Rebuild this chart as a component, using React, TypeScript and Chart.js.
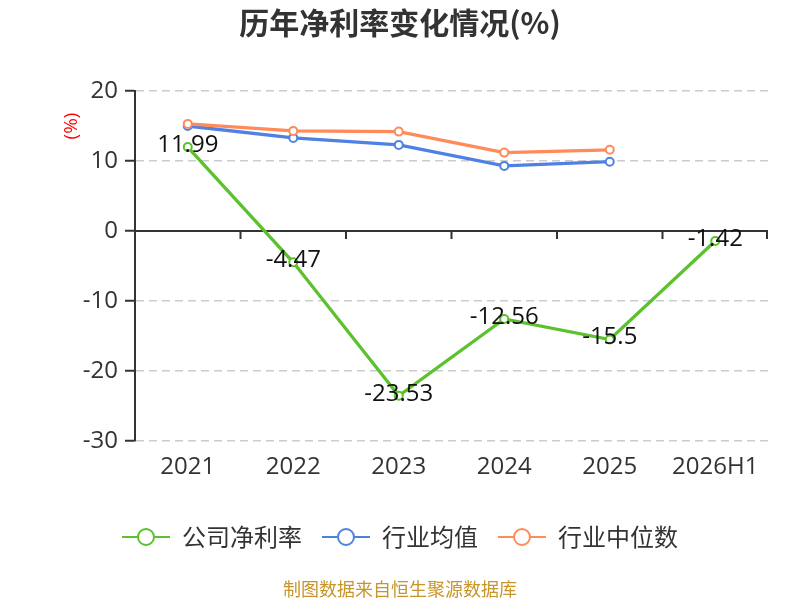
import React, { useEffect, useRef } from 'react';
import { Chart, registerables } from 'chart.js';

Chart.register(...registerables);

const categories = ['2021', '2022', '2023', '2024', '2025', '2026H1'];
const companyNetMargin = [11.99, -4.47, -23.53, -12.56, -15.5, -1.42];
const industryMean = [15.0, 13.3, 12.3, 9.3, 9.9, null];
const industryMedian = [15.3, 14.3, 14.2, 11.2, 11.6, null];
const yTickValues = [20, 10, 0, -10, -20, -30];
const seriesNames = ['公司净利率', '行业均值', '行业中位数'];
const seriesColors = ['#5bc12c', '#4f81e5', '#ff8b58'];
const titleText = '历年净利率变化情况(%)';
const yAxisTitle = '(%)';
const sourceText = '制图数据来自恒生聚源数据库';

const LATIN = "'Open Sans', 'Noto Sans CJK SC', sans-serif";
const CJK = "'Noto Sans CJK SC', 'Open Sans', sans-serif";

const overlayPlugin = {
  id: 'overlay',
  beforeDatasetsDraw(chart: any) {
    const { ctx, chartArea, scales } = chart;
    const xs = scales.x;
    const y0 = scales.y.getPixelForValue(0);
    ctx.save();
    ctx.strokeStyle = '#333';
    ctx.lineWidth = 2;
    ctx.beginPath();
    ctx.moveTo(chartArea.left, y0);
    ctx.lineTo(chartArea.right, y0);
    ctx.stroke();
    const n = categories.length;
    const tickXs: number[] = [];
    for (let i = 0; i < n - 1; i++) {
      tickXs.push((xs.getPixelForValue(i) + xs.getPixelForValue(i + 1)) / 2);
    }
    tickXs.push(chartArea.right - 1);
    ctx.beginPath();
    tickXs.forEach((x) => {
      ctx.moveTo(x, y0);
      ctx.lineTo(x, y0 + 8);
    });
    ctx.stroke();
    ctx.restore();
  },
  afterDatasetsDraw(chart: any) {
    const { ctx } = chart;
    const meta = chart.getDatasetMeta(0);
    ctx.save();
    ctx.font = `24px ${LATIN}`;
    ctx.fillStyle = '#111';
    ctx.textAlign = 'center';
    ctx.textBaseline = 'middle';
    meta.data.forEach((pt: any, i: number) => {
      const v = companyNetMargin[i];
      if (v === null || v === undefined) return;
      ctx.fillText(String(v), pt.x, pt.y - 2);
    });
    ctx.restore();
  },
  afterDraw(chart: any) {
    const { ctx, width } = chart;
    ctx.save();
    // title
    ctx.font = `bold 30px ${CJK}`;
    ctx.fillStyle = '#333';
    ctx.textAlign = 'center';
    ctx.textBaseline = 'middle';
    ctx.fillText(titleText, width / 2, 23);

    // y axis title
    ctx.save();
    ctx.translate(72, 126);
    ctx.rotate(-Math.PI / 2);
    ctx.font = `19px ${LATIN}`;
    ctx.fillStyle = '#ff0000';
    ctx.textAlign = 'center';
    ctx.textBaseline = 'middle';
    ctx.fillText(yAxisTitle, 0, 0);
    ctx.restore();

    // legend
    ctx.font = `24px ${CJK}`;
    const lineW = 48;
    const textGap = 12;
    const itemGap = 20;
    const widths = seriesNames.map((s) => ctx.measureText(s).width);
    const total = widths.reduce((a, b) => a + b, 0) + seriesNames.length * (lineW + textGap) + (seriesNames.length - 1) * itemGap;
    let x = (width - total) / 2;
    const ly = 537;
    seriesNames.forEach((name, i) => {
      const c = seriesColors[i];
      ctx.strokeStyle = c;
      ctx.lineWidth = 2;
      ctx.beginPath();
      ctx.moveTo(x, ly);
      ctx.lineTo(x + lineW, ly);
      ctx.stroke();
      ctx.beginPath();
      ctx.arc(x + lineW / 2, ly, 8, 0, Math.PI * 2);
      ctx.fillStyle = '#fff';
      ctx.fill();
      ctx.stroke();
      ctx.fillStyle = '#333';
      ctx.textAlign = 'left';
      ctx.textBaseline = 'middle';
      ctx.fillText(name, x + lineW + textGap, ly);
      x += lineW + textGap + widths[i] + itemGap;
    });

    // source
    ctx.font = `18px ${CJK}`;
    ctx.fillStyle = '#c8952a';
    ctx.textAlign = 'center';
    ctx.textBaseline = 'middle';
    ctx.fillText(sourceText, width / 2, 589);
    ctx.restore();
  },
};

function makeDataset(label: string, data: (number | null)[], color: string, order: number) {
  return {
    label,
    data,
    borderColor: color,
    backgroundColor: '#ffffff',
    pointBackgroundColor: '#ffffff',
    pointBorderColor: color,
    pointBorderWidth: 2,
    pointRadius: 4,
    borderWidth: 3.3,
    tension: 0,
    order,
  };
}

export default function App() {
  const canvasRef = useRef<HTMLCanvasElement | null>(null);

  useEffect(() => {
    document.body.style.margin = '0';
    const canvas = canvasRef.current;
    if (!canvas) return;
    const chart = new Chart(canvas, {
      type: 'line',
      data: {
        labels: categories,
        datasets: [
          makeDataset(seriesNames[0], companyNetMargin, seriesColors[0], 0),
          makeDataset(seriesNames[1], industryMean, seriesColors[1], 2),
          makeDataset(seriesNames[2], industryMedian, seriesColors[2], 1),
        ],
      },
      options: {
        responsive: false,
        animation: false,
        layout: { padding: { top: 91, right: 32, bottom: 119, left: 0 } },
        plugins: {
          legend: { display: false },
          title: { display: false },
          tooltip: { enabled: false },
        },
        scales: {
          x: {
            type: 'category',
            offset: true,
            grid: { display: false, drawTicks: false },
            border: { display: false },
            ticks: {
              color: '#333',
              font: { size: 24, family: LATIN },
              padding: 12,
              maxRotation: 0,
              autoSkip: false,
            },
            afterFit: (scale: any) => {
              scale.height = 40;
            },
          },
          y: {
            min: Math.min(...yTickValues),
            max: Math.max(...yTickValues),
            ticks: {
              stepSize: 10,
              color: '#333',
              font: { size: 24, family: LATIN },
              padding: 7,
            },
            grid: {
              color: (ctx: any) => (ctx.tick && ctx.tick.value === 0 ? 'rgba(0,0,0,0)' : '#cccccc'),
              lineWidth: 1.5,
              tickColor: '#333',
              tickLength: 10,
              tickWidth: 2,
            },
            border: { display: true, color: '#333', width: 2, dash: [8, 5] },
            afterFit: (scale: any) => {
              scale.width = 135;
            },
          },
        },
      },
      plugins: [overlayPlugin],
    });
    return () => chart.destroy();
  }, []);

  return (
    <div style={{ position: 'absolute', left: 0, top: 0, width: 800, height: 600, background: '#fff' }}>
      <canvas ref={canvasRef} width={800} height={600} style={{ display: 'block' }} />
    </div>
  );
}
